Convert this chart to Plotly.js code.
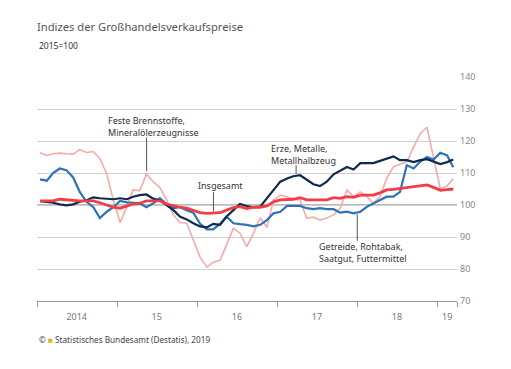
<!DOCTYPE html>
<html>
<head>
<meta charset="utf-8">
<script src="https://cdn.plot.ly/plotly-3.0.1.min.js"></script>
<style>html,body{margin:0;padding:0;background:#fff;}#chart{width:511px;height:369px;}</style>
</head>
<body>
<div id="chart"></div>
<script>
// Monthly observations Jan 2014 – Mar 2019 (2015 = 100)
const startYear = 2014;
const nMonths = 63;
const months = [];
for (let i = 0; i < nMonths; i++) {
  const y = startYear + Math.floor(i / 12);
  const m = (i % 12) + 1;
  months.push(y + '-' + String(m).padStart(2, '0') + '-15');
}

const insgesamt = [101.3,101.3,101.3,101.8,101.6,101.3,101.3,101.3,101.3,100.7,100.0,99.3,
  99.0,99.7,100.3,100.5,101.3,101.3,101.3,100.3,99.7,99.3,99.0,98.2,
  97.6,97.4,97.4,97.6,98.4,99.2,99.5,98.9,99.3,99.3,99.7,101.0,
  101.6,101.8,101.8,102.3,101.6,101.6,101.6,101.6,102.3,102.1,102.6,102.4,
  103.1,103.1,103.1,103.8,104.7,104.9,105.2,105.5,105.9,106.2,106.3,105.5,
  104.6,104.8,105.0];

const erze = [101.2,101.0,100.7,100.2,99.9,100.2,101.0,101.5,102.4,102.1,102.0,101.8,
  102.1,101.8,102.6,103.1,103.3,102.0,101.5,100.0,98.4,96.4,95.5,94.3,
  93.3,93.0,94.1,93.8,96.4,98.4,100.3,99.7,99.3,99.5,102.1,104.7,
  107.3,108.3,109.0,109.3,107.8,106.5,105.9,107.3,109.6,110.7,111.9,111.1,
  113.1,113.1,113.1,113.8,114.5,115.2,114.0,114.0,113.4,114.0,114.3,113.5,
  112.8,113.4,114.2];

const getreide = [108.0,107.6,110.0,111.4,110.9,108.6,104.1,101.0,99.3,95.9,97.9,99.3,
  101.3,100.8,100.7,100.5,99.3,100.5,102.1,100.3,99.0,99.3,98.4,97.6,
  94.1,92.4,92.4,94.1,96.4,94.3,94.0,93.8,93.3,93.8,95.3,97.4,
  97.9,99.7,99.7,99.7,99.0,98.7,99.0,98.7,98.7,97.6,97.9,97.4,
  97.9,99.5,100.5,101.6,102.6,102.6,104.1,112.4,111.4,113.5,115.0,114.2,
  116.3,115.5,111.8];

const brennstoffe = [116.3,115.5,116.0,116.2,116.0,115.9,117.3,116.4,116.7,114.5,109.8,101.5,
  94.5,99.5,104.7,104.5,109.6,107.3,105.5,101.6,96.9,94.5,94.3,89.1,
  83.7,80.6,82.1,82.7,87.6,92.7,91.2,87.0,91.2,96.0,93.0,101.6,
  103.1,102.6,101.8,101.6,95.9,96.2,95.3,95.9,96.9,99.0,104.7,102.6,
  104.1,102.6,100.5,102.6,108.3,111.9,112.7,113.5,118.1,122.3,124.3,114.5,
  105.0,106.0,108.2];

const yearTickPos = ['2014-07-01','2015-07-01','2016-07-01','2017-07-01','2018-07-01','2019-02-15'];
const yearTickText = ['2014','15','16','17','18','19'];
const yearBounds = ['2014-01-01','2015-01-01','2016-01-01','2017-01-01','2018-01-01','2019-01-01','2019-04-01'];
const yTicks = [70,80,90,100,110,120,130,140];

const FONT = 'Noto Sans, Open Sans, sans-serif';

const traces = [
  {x: months, y: brennstoffe, name: 'Feste Brennstoffe, Mineralölerzeugnisse', mode: 'lines',
   line: {color: '#f8a9a9', width: 1.6}},
  {x: months, y: getreide, name: 'Getreide, Rohtabak, Saatgut, Futtermittel', mode: 'lines',
   line: {color: '#2e72b7', width: 2.2}},
  {x: months, y: erze, name: 'Erze, Metalle, Metallhalbzeug', mode: 'lines',
   line: {color: '#0e2a4c', width: 2.2}},
  {x: months, y: insgesamt, name: 'Insgesamt', mode: 'lines',
   line: {color: '#f23d46', width: 2.8}}
];

const annFont = {family: FONT, size: 9, color: '#333'};
const layout = {
  width: 511, height: 369,
  margin: {l: 37, r: 54, t: 77, b: 68},
  paper_bgcolor: '#fff', plot_bgcolor: '#fff',
  showlegend: false,
  font: {family: FONT},
  title: {text: 'Indizes der Großhandelsverkaufspreise', x: 0, xref: 'paper', xanchor: 'left',
          y: 1 - 27/369, yref: 'container', yanchor: 'middle',
          font: {family: FONT, size: 11.2, color: '#555'}},
  xaxis: {type: 'date', range: ['2014-01-01','2019-04-01'],
          tickmode: 'array', tickvals: yearTickPos, ticktext: yearTickText,
          ticks: '', showgrid: false, zeroline: false,
          showline: true, linecolor: '#999', linewidth: 1,
          tickfont: {family: FONT, size: 9, color: '#777'},
          ticklabelstandoff: 7,
          minor: {tickmode: 'array', tickvals: yearBounds, ticks: 'outside', ticklen: 5,
                  tickcolor: '#999', tickwidth: 1, showgrid: false}},
  yaxis: {side: 'right', range: [70, 140], tickmode: 'array', tickvals: yTicks,
          showgrid: true, gridcolor: '#cfcfcf', gridwidth: 1, zeroline: false,
          ticks: '', showline: false,
          tickfont: {family: FONT, size: 9, color: '#888'}, ticklabelstandoff: 2},
  shapes: [
    {type: 'line', xref: 'paper', yref: 'y', x0: 0, x1: 1, y0: 100, y1: 100,
     line: {color: '#777', width: 1}, layer: 'below'},
    {type: 'line', xref: 'x', yref: 'y', x0: '2015-05-16', x1: '2015-05-16', y0: 121.1, y1: 110.6,
     line: {color: '#555', width: 1}},
    {type: 'line', xref: 'x', yref: 'y', x0: '2016-03-16', x1: '2016-03-16', y0: 104.0, y1: 98.0,
     line: {color: '#555', width: 1}},
    {type: 'line', xref: 'x', yref: 'y', x0: '2017-03-28', x1: '2017-03-28', y0: 112.4, y1: 109.7,
     line: {color: '#555', width: 1}},
    {type: 'line', xref: 'x', yref: 'y', x0: '2018-01-01', x1: '2018-01-01', y0: 88.8, y1: 97.1,
     line: {color: '#555', width: 1}}
  ],
  annotations: [
    {text: '2015=100', xref: 'paper', yref: 'paper', x: 0, y: (301-45)/224, xanchor: 'left', yanchor: 'middle',
     showarrow: false, font: {family: FONT, size: 8.5, color: '#333'}},
    {text: 'Feste Brennstoffe,<br>Mineralölerzeugnisse', xref: 'x', yref: 'y', x: '2014-11-10', y: 124.5,
     xanchor: 'left', yanchor: 'middle', align: 'left', showarrow: false, font: annFont},
    {text: 'Insgesamt', xref: 'x', yref: 'y', x: '2015-12-28', y: 106.2,
     xanchor: 'left', yanchor: 'middle', align: 'left', showarrow: false, font: annFont},
    {text: 'Erze, Metalle,<br>Metallhalbzeug', xref: 'x', yref: 'y', x: '2016-11-25', y: 115.9,
     xanchor: 'left', yanchor: 'middle', align: 'left', showarrow: false, font: annFont},
    {text: 'Getreide, Rohtabak,<br>Saatgut, Futtermittel', xref: 'x', yref: 'y', x: '2017-07-03', y: 85.3,
     xanchor: 'left', yanchor: 'middle', align: 'left', showarrow: false, font: annFont},
    {text: '© <span style="color:#e0b020">■</span> Statistisches Bundesamt (Destatis), 2019', xref: 'paper', yref: 'paper',
     x: 0, y: (301-339)/224, xanchor: 'left', yanchor: 'middle', showarrow: false,
     font: {family: FONT, size: 8.2, color: '#444'}}
  ]
};

Plotly.newPlot('chart', traces, layout, {displayModeBar: false, staticPlot: true});
</script>
</body>
</html>
